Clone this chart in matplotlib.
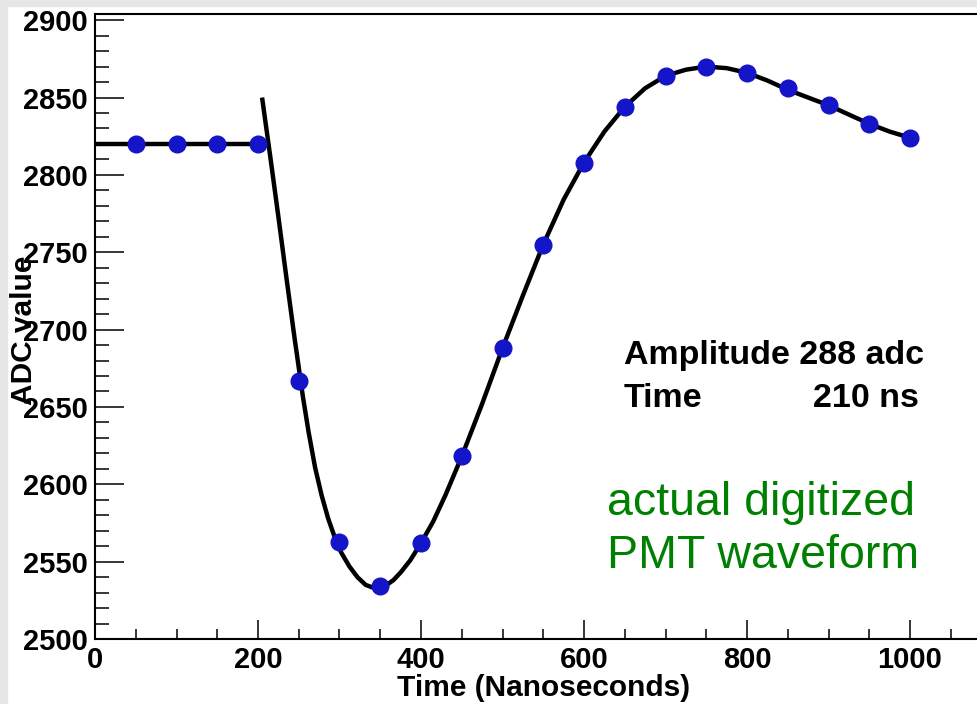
import matplotlib
matplotlib.use("Agg")
import matplotlib.pyplot as plt
from matplotlib.ticker import MultipleLocator
from matplotlib.patches import Rectangle

plt.rcParams['font.family'] = ['Liberation Sans', 'DejaVu Sans']

# digitized samples (ns, adc)
sample_t = [50, 100, 150, 200, 250, 300, 350, 400, 450, 500,
            550, 600, 650, 700, 750, 800, 850, 900, 950, 1000]
sample_adc = [2820, 2820, 2820, 2820, 2667, 2563, 2534, 2562, 2618, 2688,
              2755, 2808, 2844, 2864, 2870, 2866, 2856, 2845, 2833, 2824]

# flat pedestal line before the pulse
pedestal_t = [0, 206]
pedestal_adc = [2820, 2820]

# fitted pulse shape
fit_t = [205, 215, 225, 235, 245, 255, 262, 270, 278, 286, 294, 302, 312,
         322, 332, 342, 350, 358, 366, 375, 387, 400, 415, 430, 450, 475,
         500, 525, 550, 575, 600, 625, 650, 675, 700, 725, 750, 775, 800,
         825, 850, 875, 900, 925, 950, 975, 1000]
fit_adc = [2850, 2812, 2773, 2733, 2694, 2657, 2634, 2611, 2593, 2578, 2566,
           2556, 2547, 2540, 2535, 2533, 2533, 2535, 2538, 2543, 2551, 2562,
           2576, 2593, 2618, 2652, 2688, 2722, 2755, 2784, 2808, 2828, 2844,
           2856, 2864, 2868, 2870, 2869, 2866, 2861, 2855, 2850, 2845, 2839,
           2833, 2828, 2824]

fig = plt.figure(figsize=(9.78, 7.04), dpi=100)
fig.patch.set_facecolor('white')
gray = '#e6e6e6'
fig.patches.append(Rectangle((0, 0), 7 / 978, 1, transform=fig.transFigure,
                             color=gray, zorder=0))
fig.patches.append(Rectangle((0, 1 - 6 / 704), 1, 6 / 704, transform=fig.transFigure,
                             color=gray, zorder=0))

ax = fig.add_axes([95 / 978, 65 / 704, 896.5 / 978, 625 / 704])
ax.set_xlim(0, 1100)
ax.set_ylim(2500, 2904)

ax.plot(pedestal_t, pedestal_adc, color='black', lw=3.2, zorder=2)
ax.plot(fit_t, fit_adc, color='black', lw=3.2, zorder=2, solid_capstyle='butt')
ax.plot(sample_t, sample_adc, 'o', color='#1414c8', ms=12, zorder=3)

for s in ax.spines.values():
    s.set_linewidth(1.5)
ax.spines['right'].set_visible(False)

ax.xaxis.set_major_locator(MultipleLocator(200))
ax.xaxis.set_minor_locator(MultipleLocator(50))
ax.yaxis.set_major_locator(MultipleLocator(50))
ax.yaxis.set_minor_locator(MultipleLocator(10))
ax.tick_params(axis='x', which='major', direction='in', length=14, width=1.1, pad=5)
ax.tick_params(axis='x', which='minor', direction='in', length=7.5, width=1.1)
ax.tick_params(axis='y', which='major', direction='in', length=21, width=1.1, pad=5)
ax.tick_params(axis='y', which='minor', direction='in', length=10, width=1.1)
for lab in ax.get_xticklabels() + ax.get_yticklabels():
    lab.set_fontsize(21)
    lab.set_fontweight('bold')

ax.set_xlabel('Time (Nanoseconds)', fontsize=21.5, fontweight='bold', labelpad=0)
fig.text(24 / 978, 1 - 330 / 704, 'ADC value', rotation=90, fontsize=21.5,
         fontweight='bold', ha='center', va='center')

ax.text(649, 2678, 'Amplitude 288 adc', fontsize=24.5, fontweight='bold',
        va='baseline')
ax.text(649, 2650, 'Time', fontsize=24.5, fontweight='bold', va='baseline')
ax.text(881, 2650, '210 ns', fontsize=24.5, fontweight='bold', va='baseline')
ax.text(628, 2580, 'actual digitized', fontsize=33.5, color='#008000', va='baseline')
ax.text(628, 2546, 'PMT waveform', fontsize=33.5, color='#008000', va='baseline')

fig.savefig('out.png', dpi=100)
